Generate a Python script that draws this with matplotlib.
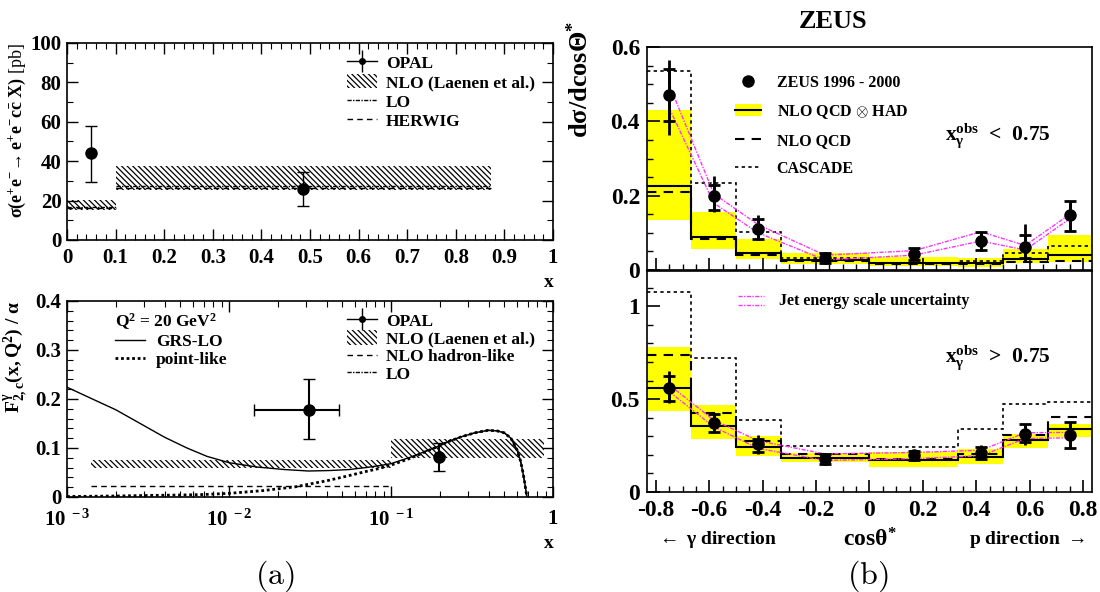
import numpy as np
import matplotlib
matplotlib.use('Agg')
import matplotlib.pyplot as plt
from matplotlib.lines import Line2D
from matplotlib.patches import Patch
from matplotlib.ticker import MultipleLocator, LogLocator, NullFormatter

plt.rcParams['font.family'] = ['Liberation Serif', 'DejaVu Serif']
plt.rcParams['font.weight'] = 'bold'
plt.rcParams['mathtext.fontset'] = 'custom'
plt.rcParams['mathtext.rm'] = 'Liberation Serif:bold'
plt.rcParams['mathtext.it'] = 'Liberation Serif:italic:bold'
plt.rcParams['mathtext.bf'] = 'Liberation Serif:bold'
plt.rcParams['mathtext.default'] = 'rm'
plt.rcParams['hatch.linewidth'] = 0.9
plt.rcParams['axes.linewidth'] = 1.2

# ---- (a) top: sigma(e+e- -> e+e- c cbar X) ----
sig_opal_x = [0.05, 0.486]
sig_opal = [44.1, 26.0]
sig_opal_lo = [29.3, 17.2]
sig_opal_hi = [58.1, 34.6]
sig_edges = [0.0, 0.1, 0.872]
sig_nlo_lo = [15.3, 25.4]
sig_nlo_hi = [20.3, 37.6]
sig_lo = [17.0, 27.4]
sig_herwig = [16.2, 26.3]

# ---- (a) bottom: F2,c photon / alpha ----
f2_opal_x = [0.031, 0.198]
f2_opal_xlo = [0.0142, 0.198]
f2_opal_xhi = [0.0478, 0.198]
f2_opal = [0.178, 0.081]
f2_opal_lo = [0.119, 0.053]
f2_opal_hi = [0.240, 0.110]
f2_edges = [0.0014, 0.1, 0.88]
f2_nlo_lo = [0.0585, 0.079]
f2_nlo_hi = [0.0755, 0.118]
f2_had_edges = [0.0014, 0.1]
f2_had = [0.0224]
grs_x = [0.001, 0.0015, 0.002, 0.0029, 0.004, 0.0055, 0.0073, 0.01, 0.015, 0.022,
         0.031, 0.042, 0.055, 0.07, 0.085, 0.1, 0.134, 0.16, 0.198, 0.23,
         0.273, 0.33, 0.397, 0.45, 0.5, 0.55, 0.6, 0.63, 0.65, 0.67, 0.69]
grs_y = [0.224, 0.197, 0.178, 0.148, 0.122, 0.100, 0.083, 0.070, 0.061, 0.056,
         0.053, 0.054, 0.056, 0.060, 0.064, 0.068, 0.082, 0.092, 0.104, 0.114,
         0.123, 0.131, 0.136, 0.135, 0.131, 0.120, 0.096, 0.074, 0.053, 0.028, 0.0]
pl_x = [0.001, 0.002, 0.003, 0.005, 0.007, 0.0101, 0.0162, 0.026, 0.031, 0.04,
        0.0525, 0.07, 0.084, 0.1, 0.134, 0.16, 0.198, 0.23, 0.273, 0.33,
        0.397, 0.45, 0.5, 0.55, 0.6, 0.63, 0.65, 0.67, 0.69]
pl_y = [0.001, 0.002, 0.003, 0.004, 0.005, 0.0075, 0.013, 0.021, 0.026, 0.033,
        0.042, 0.052, 0.058, 0.065, 0.080, 0.091, 0.104, 0.114, 0.123, 0.131,
        0.136, 0.135, 0.131, 0.120, 0.096, 0.074, 0.053, 0.028, 0.0]

# ---- (b) ZEUS dsigma/dcos(theta*) ----
bin_edges = [-0.833, -0.667, -0.5, -0.333, 0.0, 0.333, 0.5, 0.667, 0.833]
bin_centres = [-0.75, -0.583, -0.417, -0.167, 0.167, 0.417, 0.583, 0.75]

# x_gamma^obs < 0.75
lo_data = [0.472, 0.198, 0.111, 0.031, 0.043, 0.079, 0.063, 0.148]
lo_tot_lo = [0.364, 0.157, 0.081, 0.020, 0.027, 0.051, 0.022, 0.106]
lo_tot_hi = [0.566, 0.252, 0.148, 0.045, 0.058, 0.103, 0.124, 0.186]
lo_stat_lo = [0.400, 0.162, 0.083, 0.020, 0.027, 0.053, 0.031, 0.106]
lo_stat_hi = [0.541, 0.229, 0.137, 0.045, 0.058, 0.101, 0.094, 0.186]
lo_had = [0.225, 0.090, 0.045, 0.027, 0.018, 0.018, 0.029, 0.040]
lo_had_lo = [0.135, 0.056, 0.029, 0.016, 0.011, 0.008, 0.018, 0.021]
lo_had_hi = [0.431, 0.157, 0.084, 0.045, 0.035, 0.032, 0.057, 0.094]
lo_nlo = [0.211, 0.084, 0.041, 0.025, 0.016, 0.015, 0.021, 0.025]
lo_casc = [0.536, 0.234, 0.102, 0.032, 0.020, 0.025, 0.045, 0.065]
lo_jes_hi = [0.499, 0.205, 0.122, 0.040, 0.052, 0.103, 0.066, 0.150]
lo_jes_lo = [0.436, 0.180, 0.100, 0.027, 0.040, 0.078, 0.054, 0.138]

# x_gamma^obs > 0.75
hi_data = [0.559, 0.369, 0.258, 0.180, 0.198, 0.211, 0.315, 0.306]
hi_tot_lo = [0.477, 0.324, 0.204, 0.153, 0.175, 0.175, 0.252, 0.238]
hi_tot_hi = [0.652, 0.423, 0.306, 0.207, 0.222, 0.252, 0.366, 0.377]
hi_stat_lo = [0.492, 0.324, 0.216, 0.153, 0.175, 0.178, 0.270, 0.238]
hi_stat_hi = [0.625, 0.420, 0.288, 0.207, 0.222, 0.245, 0.366, 0.377]
hi_had = [0.562, 0.357, 0.243, 0.184, 0.171, 0.189, 0.279, 0.337]
hi_had_lo = [0.438, 0.288, 0.195, 0.159, 0.135, 0.153, 0.238, 0.294]
hi_had_hi = [0.780, 0.468, 0.303, 0.211, 0.216, 0.231, 0.315, 0.366]
hi_nlo = [0.739, 0.423, 0.276, 0.204, 0.180, 0.207, 0.306, 0.405]
hi_casc = [1.077, 0.721, 0.387, 0.249, 0.243, 0.337, 0.472, 0.486]
hi_jes_hi = [0.577, 0.387, 0.276, 0.205, 0.213, 0.225, 0.319, 0.321]
hi_jes_lo = [0.541, 0.351, 0.235, 0.170, 0.180, 0.195, 0.288, 0.292]

HATCH = '\\' * 6
YELLOW = '#ffff00'
MAGENTA = '#ff33ff'
LO_STYLE = (0, (3, 1, 1, 1))
HW_STYLE = (0, (4, 3))
NLO_STYLE = (0, (4.5, 3.5))

fig = plt.figure(figsize=(11, 5.92), dpi=100)
ax1 = fig.add_axes([0.0609, 0.5946, 0.4418, 0.3328])
ax2 = fig.add_axes([0.0609, 0.1605, 0.4418, 0.3311])
ax3 = fig.add_axes([0.5882, 0.5439, 0.4045, 0.3767])
ax4 = fig.add_axes([0.5882, 0.1689, 0.4045, 0.3733])


def band(ax, edges, lo, hi):
    e = np.array(edges)
    ax.bar(e[:-1], np.array(hi) - np.array(lo), width=np.diff(e), bottom=lo,
           align='edge', facecolor='none', edgecolor='k', linewidth=0, hatch=HATCH)


# ---------- top left ----------
band(ax1, sig_edges, sig_nlo_lo, sig_nlo_hi)
ax1.hlines(sig_lo, sig_edges[:-1], sig_edges[1:], colors='k', lw=1, linestyles=[LO_STYLE])
ax1.hlines(sig_herwig, sig_edges[:-1], sig_edges[1:], colors='k', lw=1, linestyles=[HW_STYLE])
y = np.array(sig_opal)
ax1.errorbar(sig_opal_x, y, yerr=[y - sig_opal_lo, np.array(sig_opal_hi) - y], fmt='o',
             color='k', ms=8, elinewidth=1, capsize=4, capthick=1)
ax1.set_xlim(0, 1)
ax1.set_ylim(0, 100)
xt = np.round(np.arange(0, 1.01, 0.1), 1)
ax1.set_xticks(xt, [f'{t:g}' for t in xt])
ax1.set_yticks([0, 20, 40, 60, 80, 100], ['0', '20', '40', '60', '80', '100'])
ax1.xaxis.set_minor_locator(MultipleLocator(0.02))
ax1.yaxis.set_minor_locator(MultipleLocator(10))
ax1.set_ylabel(r'$\sigma(e^{+}e^{-}\!\rightarrow e^{+}e^{-}c\bar{c}\ X)$ [pb]', fontsize=13, loc='top')
ax1.yaxis.set_label_coords(-0.080, 1.0)
ax1.text(0.992, -0.218, 'x', transform=ax1.transAxes, ha='center', va='center', fontsize=14)

h_opal = (Line2D([], [], color='k', lw=1, marker='o', ms=4),
          Line2D([], [], color='k', ls='none', marker='|', ms=16, mew=1))
h_nlo = Patch(facecolor='none', edgecolor='k', lw=0, hatch=HATCH)
ax1.legend([h_opal, h_nlo, Line2D([], [], color='k', lw=1, ls=LO_STYLE),
            Line2D([], [], color='k', lw=1, ls=HW_STYLE)],
           ['OPAL', 'NLO (Laenen et al.)', 'LO', 'HERWIG'],
           loc='upper left', bbox_to_anchor=(0.576, 0.94), frameon=False, fontsize=12.5,
           handlelength=1.75, handleheight=0.9, handletextpad=0.5, labelspacing=0.12,
           borderpad=0, borderaxespad=0)

# ---------- bottom left ----------
band(ax2, f2_edges, f2_nlo_lo, f2_nlo_hi)
ax2.hlines(f2_had, f2_had_edges[:-1], f2_had_edges[1:], colors='k', lw=1, linestyles=[HW_STYLE])
ax2.plot(grs_x, grs_y, color='k', lw=1)
ax2.plot(pl_x, pl_y, color='k', lw=2, ls=(0, (1, 1)))
ax2.plot(grs_x[17:], grs_y[17:], color='k', lw=1, ls=LO_STYLE)
fx = np.array(f2_opal_x)
fy = np.array(f2_opal)
ax2.errorbar(fx, fy, xerr=[fx - f2_opal_xlo, np.array(f2_opal_xhi) - fx],
             yerr=[fy - f2_opal_lo, np.array(f2_opal_hi) - fy], fmt='o', color='k', ms=8,
             elinewidth=1.5, capsize=4, capthick=1)
ax2.set_xscale('log')
ax2.set_xlim(1e-3, 1)
ax2.set_ylim(0, 0.4)
ax2.set_xticks([1e-3, 1e-2, 1e-1, 1], [r'$10^{\ -3}$', r'$10^{\ -2}$', r'$10^{\ -1}$', '1'])
ax2.xaxis.set_minor_locator(LogLocator(base=10, subs=np.arange(2, 10)))
ax2.xaxis.set_minor_formatter(NullFormatter())
ax2.set_yticks([0, 0.1, 0.2, 0.3, 0.4], ['0', '0.1', '0.2', '0.3', '0.4'])
ax2.yaxis.set_minor_locator(MultipleLocator(0.02))
ax2.set_ylabel(r'$F^{\gamma}_{2,c}(x,Q^{2})\ /\ \alpha$', fontsize=14, loc='top')
ax2.yaxis.set_label_coords(-0.076, 1.0)
ax2.text(0.992, -0.235, 'x', transform=ax2.transAxes, ha='center', va='center', fontsize=14)
ax2.text(0.099, 0.893, r'$Q^{2}$ = 20 GeV$^{2}$', transform=ax2.transAxes, ha='left',
         va='center', fontsize=12.5)
leg_a = ax2.legend([Line2D([], [], color='k', lw=1), Line2D([], [], color='k', lw=2, ls=(0, (1, 1)))],
                   ['GRS-LO', 'point-like'], loc='upper left', bbox_to_anchor=(0.099, 0.83),
                   frameon=False, fontsize=12.5, handlelength=1.75, handletextpad=0.6,
                   labelspacing=0.08, borderpad=0, borderaxespad=0)
ax2.add_artist(leg_a)
ax2.legend([h_opal, h_nlo, Line2D([], [], color='k', lw=1, ls=HW_STYLE),
            Line2D([], [], color='k', lw=1, ls=LO_STYLE)],
           ['OPAL', 'NLO (Laenen et al.)', 'NLO hadron-like', 'LO'],
           loc='upper left', bbox_to_anchor=(0.576, 0.94), frameon=False, fontsize=12.5,
           handlelength=1.75, handleheight=0.9, handletextpad=0.5, labelspacing=0.03,
           borderpad=0, borderaxespad=0)

for ax in (ax1, ax2):
    ax.tick_params(which='both', direction='in', top=True, right=True, labelsize=15)
    ax.tick_params(which='major', length=8, width=1)
    ax.tick_params(which='minor', length=4, width=0.8)
    ax.tick_params(axis='x', pad=6)
    ax.tick_params(axis='y', pad=4)
ax2.tick_params(axis='x', pad=9)


# ---------- right panels ----------
def zeus_panel(ax, data, tlo, thi, slo, shi, had, hlo, hhi, nlo, casc, jhi, jlo):
    e = np.array(bin_edges)
    ax.bar(e[:-1], np.array(hhi) - np.array(hlo), width=np.diff(e), bottom=hlo,
           align='edge', color=YELLOW, linewidth=0)
    ax.stairs(casc, bin_edges, baseline=None, color='k', lw=1.2, ls=(0, (2, 2)))
    ax.stairs(nlo, bin_edges, baseline=None, color='k', lw=1.5, ls=NLO_STYLE)
    ax.stairs(had, bin_edges, baseline=None, color='k', lw=1.5)
    ax.plot(bin_centres, jhi, color=MAGENTA, lw=1, ls=(0, (3, 1, 1, 1)))
    ax.plot(bin_centres, jlo, color=MAGENTA, lw=1, ls=(0, (3, 1, 1, 1)))
    d = np.array(data)
    ax.errorbar(bin_centres, d, yerr=[d - tlo, np.array(thi) - d], fmt='none',
                ecolor='k', elinewidth=2, capsize=0)
    ax.errorbar(bin_centres, d, yerr=[d - slo, np.array(shi) - d], fmt='o', color='k',
                ms=8, elinewidth=2, capsize=4, capthick=2)
    ax.set_xlim(bin_edges[0], bin_edges[-1])
    xt = np.round(np.arange(-0.8, 0.81, 0.2), 1)
    ax.set_xticks(xt, [f'{t:g}' if t != 0 else '0' for t in xt])
    ax.xaxis.set_minor_locator(MultipleLocator(0.05))
    ax.tick_params(which='both', direction='in', top=False, right=False, labelsize=17)
    ax.tick_params(which='major', length=9, width=1.2)
    ax.tick_params(which='minor', length=4.5, width=1)
    ax.tick_params(axis='x', pad=6)
    ax.tick_params(axis='y', pad=5)


zeus_panel(ax3, lo_data, lo_tot_lo, lo_tot_hi, lo_stat_lo, lo_stat_hi, lo_had, lo_had_lo,
           lo_had_hi, lo_nlo, lo_casc, lo_jes_hi, lo_jes_lo)
ax3.set_ylim(0, 0.6)
ax3.set_yticks([0, 0.2, 0.4, 0.6], ['0', '0.2', '0.4', '0.6'])
ax3.yaxis.set_minor_locator(MultipleLocator(0.05))
ax3.tick_params(axis='x', labelbottom=False)
ax3.set_ylabel(r'$d\sigma/dcos\Theta^{*}$', fontsize=19, loc='top')
ax3.yaxis.set_label_coords(-0.121, 1.12)
ax3.text(0.67, 0.605, r'$x_{\gamma}^{obs}$  <  0.75', transform=ax3.transAxes, ha='left',
         va='center', fontsize=15.5)
h_zeus = Line2D([], [], color='k', ls='none', marker='o', ms=8)
h_had = (Patch(facecolor=YELLOW, lw=0), Line2D([], [], color='k', lw=1.5))
ax3.legend([h_zeus, h_had, Line2D([], [], color='k', lw=1.5, ls=NLO_STYLE),
            Line2D([], [], color='k', lw=1.2, ls=(0, (2, 2)))],
           ['ZEUS 1996 - 2000', r'NLO QCD $\otimes$ HAD', 'NLO QCD', 'CASCADE'],
           loc='upper left', bbox_to_anchor=(0.198, 0.875), frameon=False, fontsize=11.5,
           handlelength=1.6, handleheight=0.8, handletextpad=1.0, labelspacing=0.75,
           borderpad=0, borderaxespad=0)

zeus_panel(ax4, hi_data, hi_tot_lo, hi_tot_hi, hi_stat_lo, hi_stat_hi, hi_had, hi_had_lo,
           hi_had_hi, hi_nlo, hi_casc, hi_jes_hi, hi_jes_lo)
ax4.set_ylim(0, 1.19)
ax4.set_yticks([0, 0.5, 1], ['0', '0.5', '1'])
ax4.yaxis.set_minor_locator(MultipleLocator(0.1))
ax4.text(0.67, 0.61, r'$x_{\gamma}^{obs}$  >  0.75', transform=ax4.transAxes, ha='left',
         va='center', fontsize=15.5)
for yy in (0.887, 0.846):
    ax4.plot([0.205, 0.262], [yy, yy], transform=ax4.transAxes, color=MAGENTA, lw=1,
             ls=(0, (3, 1, 1, 1)))
ax4.text(0.297, 0.866, 'Jet energy scale uncertainty', transform=ax4.transAxes,
         ha='left', va='center', fontsize=11.5)
ax4.text(0.5, -0.215, r'cos$\theta^{*}$', transform=ax4.transAxes, ha='center',
         va='center', fontsize=17)
ax4.text(0.02, -0.215, r'$\leftarrow$ $\gamma$ direction', transform=ax4.transAxes,
         ha='left', va='center', fontsize=14)
ax4.text(0.985, -0.215, r'p direction $\rightarrow$', transform=ax4.transAxes,
         ha='right', va='center', fontsize=14)

fig.text(833 / 1100, 1 - 22 / 592, 'ZEUS', ha='center', va='center', fontsize=19)
fig.text(275 / 1100, 1 - 576 / 592, r'$\mathrm{(a)}$', math_fontfamily='cm', fontsize=23,
         ha='center', va='center')
fig.text(868 / 1100, 1 - 576 / 592, r'$\mathrm{(b)}$', math_fontfamily='cm', fontsize=23,
         ha='center', va='center')

fig.savefig('out.png', dpi=100)
